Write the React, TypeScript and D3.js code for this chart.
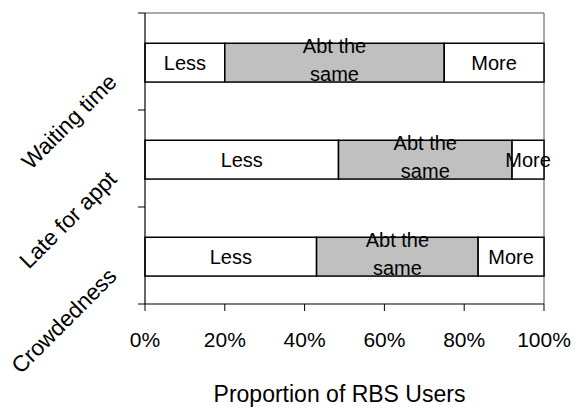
import React from "react";
import * as d3 from "d3";

const categories = ["Waiting time", "Late for appt", "Crowdedness"];
const lessValues = [20, 48.5, 43];
const sameValues = [55, 43.5, 40.5];
const moreValues = [25, 8, 16.5];
const xTicks = [0, 20, 40, 60, 80, 100];
const xTitle = "Proportion of RBS Users";

const W = 576;
const H = 410;
const M = { left: 145, right: 32, top: 13, bottom: 106 };

export default function App() {
  const x = d3.scaleLinear().domain([0, 100]).range([M.left, W - M.right]);
  const y = d3
    .scaleBand<string>()
    .domain(categories)
    .range([M.top, H - M.bottom])
    .paddingInner(0.6)
    .paddingOuter(0.3)
    .align(0.52);
  const band = d3.scaleBand<string>().domain(categories).range([M.top, H - M.bottom]);
  const font = "'Liberation Sans', Arial, sans-serif";
  const x0 = x(0);
  const x1 = x(100);
  const yTop = M.top;
  const yBot = H - M.bottom;

  const segs = categories.map((c, i) => {
    const a = lessValues[i];
    const b = a + sameValues[i];
    const e = b + moreValues[i];
    return [
      { key: "less", from: 0, to: a, fill: "#ffffff", label: ["Less"] },
      { key: "same", from: a, to: b, fill: "#c0c0c0", label: ["Abt the", "same"] },
      { key: "more", from: b, to: e, fill: "#ffffff", label: ["More"] },
    ];
  });

  const bandTicks = [...categories.map((c) => band(c)!), yBot];

  return (
    <svg
      width={W}
      height={H}
      style={{ position: "absolute", left: 0, top: 0, background: "#fff" }}
      fontFamily={font}
    >
      {/* frame */}
      <line x1={x0} x2={x1} y1={yTop} y2={yTop} stroke="#555" strokeWidth={1} />
      <line x1={x1} x2={x1} y1={yTop} y2={yBot} stroke="#555" strokeWidth={1} />
      {/* bars */}
      {categories.map((c, i) => {
        const by = y(c)!;
        const bh = y.bandwidth();
        const cy = by + bh / 2;
        return (
          <g key={c}>
            {segs[i].map((s) => (
              <rect
                key={s.key}
                x={x(s.from)}
                y={by}
                width={x(s.to) - x(s.from)}
                height={bh}
                fill={s.fill}
                stroke="#000"
                strokeWidth={1.5}
              />
            ))}
            {segs[i].map((s) => {
              const cx = (x(s.from) + x(s.to)) / 2;
              if (s.label.length === 1) {
                return (
                  <text key={s.key + "t"} x={cx} y={cy + 7} textAnchor="middle" fontSize={20} fill="#000">
                    {s.label[0]}
                  </text>
                );
              }
              return (
                <text key={s.key + "t"} x={cx} textAnchor="middle" fontSize={20} fill="#000">
                  <tspan x={cx} y={cy - 9.5}>{s.label[0]}</tspan>
                  <tspan x={cx} y={cy + 18.5}>{s.label[1]}</tspan>
                </text>
              );
            })}
          </g>
        );
      })}
      {/* axes */}
      <line x1={x0} x2={x0} y1={yTop} y2={yBot} stroke="#000" strokeWidth={1.2} />
      <line x1={x0} x2={x1} y1={yBot} y2={yBot} stroke="#000" strokeWidth={1.2} />
      {bandTicks.map((t, i) => (
        <line key={"yt" + i} x1={x0 - 7} x2={x0} y1={t} y2={t} stroke="#000" strokeWidth={1} />
      ))}
      {xTicks.map((t) => (
        <g key={"xt" + t}>
          <line x1={x(t)} x2={x(t)} y1={yBot} y2={yBot + 7} stroke="#000" strokeWidth={1} />
          <text x={x(t)} y={347} textAnchor="middle" fontSize={21} fill="#000">
            {t + "%"}
          </text>
        </g>
      ))}
      {categories.map((c) => {
        const cy = band(c)! + band.bandwidth() / 2;
        const ax = 118;
        const ay = cy + 22;
        return (
          <text
            key={c + "lab"}
            x={ax}
            y={ay}
            transform={`rotate(-45, ${ax}, ${ay})`}
            textAnchor="end"
            fontSize={22.5}
            fill="#000"
          >
            {c}
          </text>
        );
      })}
      <text x={(x0 + x1) / 2 - 5} y={402} textAnchor="middle" fontSize={23} fill="#000">
        {xTitle}
      </text>
    </svg>
  );
}
